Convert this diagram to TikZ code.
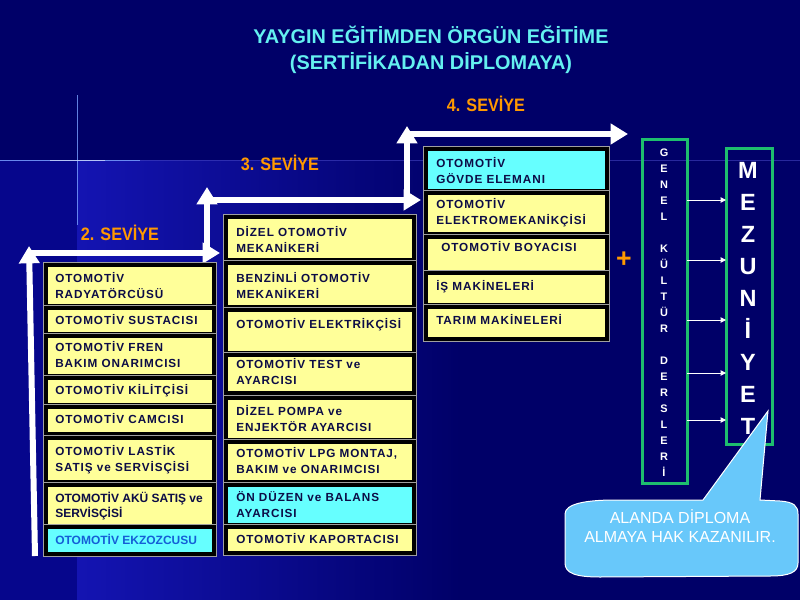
\documentclass[tikz,border=0pt]{standalone}
\usepackage{graphicx}
\usepackage{fontspec}
\setmainfont{Liberation Sans}
\newfontfamily\boxfont{Liberation Sans}[LetterSpace=8]
\usetikzlibrary{arrows.meta,fit}
\definecolor{bgtop}{RGB}{0,0,104}
\definecolor{bgmid}{RGB}{20,20,178}
\definecolor{bgleft}{RGB}{6,6,140}
\definecolor{flare}{RGB}{120,160,255}
\definecolor{boxyellow}{RGB}{255,255,153}
\definecolor{boxcyan}{RGB}{102,255,255}
\definecolor{boxtext}{RGB}{12,12,70}
\definecolor{ekzblue}{RGB}{20,95,215}
\definecolor{titlecyan}{RGB}{100,240,240}
\definecolor{levelorange}{RGB}{255,153,0}
\definecolor{framegreen}{RGB}{30,190,110}
\definecolor{calloutblue}{RGB}{104,200,250}
\newcommand{\jobbox}[6]{%
  \draw[shadowframe] (#2-2.5,#3-2.5) rectangle (#4+2.5,#5+2.5);
  \node[jobframe, fill=#6, fit={(#2,#3) (#4,#5)}] (#1) {};}
\begin{document}
\begin{tikzpicture}[x=0.75pt,y=-0.75pt,
  shadowframe/.style={draw=gray!75, line width=0.75pt},
  jobframe/.style={draw=black, line width=2.4pt, inner sep=0pt, outer sep=0pt},
  lbl/.style={anchor=west, inner sep=0pt, align=left, text=boxtext,
    font=\boxfont\bfseries\fontsize{8.8}{12}\selectfont},
  lblplain/.style={lbl, font=\bfseries\fontsize{9}{11}\selectfont},
  level/.style={inner sep=0pt, text=levelorange, font=\bfseries\fontsize{13.5}{15}\selectfont},
  stair/.style={draw=white, line width=4.5pt, -{Triangle[length=13pt,width=15pt]}},
  greenbox/.style={draw=framegreen, line width=2.25pt, inner sep=0pt, outer sep=0pt},
  gk/.style={anchor=base, inner sep=0pt, text=white, font=\bfseries\fontsize{8.2}{10}\selectfont},
  mz/.style={anchor=base, inner sep=0pt, text=white, font=\bfseries\fontsize{17.6}{20}\selectfont},
  thinarrow/.style={draw=white, line width=0.75pt, -{Triangle[length=4pt,width=4pt]}},
  callout/.style={fill=calloutblue, draw=white, line width=0.75pt}]
\useasboundingbox (0,0) rectangle (800,600);
% background
\fill[bgtop] (0,0) rectangle (800,600);
\fill[bgleft] (0,160) rectangle (77,600);
\shade[left color=bgmid, right color=bgtop] (77,160) rectangle (460,600);
\draw[bgmid!80!white, line width=0.5pt, opacity=0.6] (0,160) -- (800,160);
\draw[flare, line width=0.6pt, opacity=0.8] (0,160) -- (140,160);
\draw[flare, line width=0.6pt, opacity=0.8] (77,95) -- (77,225);
\draw[white, line width=0.6pt, opacity=0.5] (50,160) -- (105,160);

% title
\node[align=center, text=titlecyan, inner sep=0pt,
  font=\bfseries\fontsize{14.9}{19.5}\selectfont] (title) at (431,50)
  {YAYGIN EĞİTİMDEN ÖRGÜN EĞİTİME\\(SERTİFİKADAN DİPLOMAYA)};

% level labels
\node[level] (lev2) at (120,233) {\scalebox{0.9}[1]{2. SEVİYE}};
\node[level] (lev3) at (280,163) {\scalebox{0.9}[1]{3. SEVİYE}};
\node[level] (lev4) at (486,104) {\scalebox{0.9}[1]{4. SEVİYE}};

% staircase arrows
\coordinate (s2b) at (35,556);
\coordinate (s2t) at (29,246);
\coordinate (s2h) at (29,253);
\coordinate (s2e) at (220,253);
\coordinate (s3b) at (207,256);
\coordinate (s3t) at (207,187);
\coordinate (s3h) at (204,200);
\coordinate (s3e) at (421,200);
\coordinate (s4b) at (407,203);
\coordinate (s4t) at (407,126);
\coordinate (s4h) at (404,134);
\coordinate (s4e) at (628,134);
\draw[stair] (s2b) -- (s2t);
\draw[stair] (s2h) -- (s2e);
\draw[stair] (s3b) -- (s3t);
\draw[stair] (s3h) -- (s3e);
\draw[stair] (s4b) -- (s4t);
\draw[stair] (s4h) -- (s4e);

% left column
\jobbox{L1}{46}{265}{214}{306}{boxyellow}
\jobbox{L2}{46}{308}{214}{334}{boxyellow}
\jobbox{L3}{46}{336}{214}{376}{boxyellow}
\jobbox{L4}{46}{378}{214}{405}{boxyellow}
\jobbox{L5}{46}{407}{214}{434}{boxyellow}
\jobbox{L6}{46}{438}{214}{482}{boxyellow}
\jobbox{L7}{46}{485}{214}{526}{boxyellow}
\jobbox{L8}{46}{527}{214}{554}{boxcyan}
\node[lbl] (L1t) at (55,286) {OTOMOTİV\\RADYATÖRCÜSÜ};
\node[lbl] (L2t) at (55,320) {OTOMOTİV SUSTACISI};
\node[lbl] (L3t) at (55,355) {OTOMOTİV FREN\\BAKIM ONARIMCISI};
\node[lbl] (L4t) at (55,391) {OTOMOTİV KİLİTÇİSİ};
\node[lbl] (L5t) at (55,419) {OTOMOTİV CAMCISI};
\node[lbl] (L6t) at (55,460) {OTOMOTİV LASTİK\\SATIŞ ve SERVİSÇİSİ};
\node[lblplain] (L7t) at (55,506) {OTOMOTİV AKÜ SATIŞ ve\\SERVİSÇİSİ};
\node[lblplain, text=ekzblue] (L8t) at (55,539) {OTOMOTİV EKZOZCUSU};

% middle column
\jobbox{M1}{226}{217}{414}{260}{boxyellow}
\jobbox{M2}{226}{263}{414}{307}{boxyellow}
\jobbox{M3}{226}{310}{414}{353}{boxyellow}
\jobbox{M4}{226}{355}{414}{393}{boxyellow}
\jobbox{M5}{226}{398}{414}{440}{boxyellow}
\jobbox{M6}{226}{442}{414}{482}{boxyellow}
\jobbox{M7}{226}{485}{414}{525}{boxcyan}
\jobbox{M8}{226}{527}{414}{553}{boxyellow}
\node[lbl] (M1t) at (236,239) {DİZEL OTOMOTİV\\MEKANİKERİ};
\node[lbl] (M2t) at (236,285.5) {BENZİNLİ OTOMOTİV\\MEKANİKERİ};
\node[lbl] (M3t) at (236,325) {OTOMOTİV ELEKTRİKÇİSİ};
\node[lbl] (M4t) at (236,372) {OTOMOTİV TEST ve\\AYARCISI};
\node[lbl] (M5t) at (236,418.5) {DİZEL POMPA ve\\ENJEKTÖR AYARCISI};
\node[lbl] (M6t) at (236,461) {OTOMOTİV LPG MONTAJ,\\BAKIM ve ONARIMCISI};
\node[lbl] (M7t) at (236,505) {ÖN DÜZEN ve BALANS\\AYARCISI};
\node[lbl] (M8t) at (236,539) {OTOMOTİV KAPORTACISI};

% right column
\jobbox{R1}{426}{149}{607}{191}{boxcyan}
\jobbox{R2}{426}{193}{607}{234}{boxyellow}
\jobbox{R3}{426}{237}{607}{272}{boxyellow}
\jobbox{R4}{426}{273}{607}{305}{boxyellow}
\jobbox{R5}{426}{307}{607}{339}{boxyellow}
\node[lbl] (R1t) at (436,170.5) {OTOMOTİV\\GÖVDE ELEMANI};
\node[lbl] (R2t) at (436,212.5) {OTOMOTİV\\ELEKTROMEKANİKÇİSİ};
\node[lbl] (R3t) at (441,247) {OTOMOTİV BOYACISI};
\node[lbl] (R4t) at (436,287) {İŞ MAKİNELERİ};
\node[lbl] (R5t) at (436,319) {TARIM MAKİNELERİ};

% plus
\node[inner sep=0pt, text=levelorange, font=\bfseries\fontsize{20}{20}\selectfont] (plus) at (624,260) {+};

% genel kultur dersleri
\node[greenbox, fit={(642,139) (687,483)}] (genel) {};
\foreach \ch [count=\i] in {G,E,N,E,L,{},K,Ü,L,T,Ü,R,{},D,E,R,S,L,E,R,İ}
  \node[gk] (gk\i) at (664,{156+16*(\i-1)}) {\ch};

% mezuniyet
\node[greenbox, fit={(726,148) (772,444)}] (mezun) {};
\foreach \yy [count=\i] in {200,260,320,373,420}
  \draw[thinarrow] (genel.east |- 0,\yy) -- (mezun.west |- 0,\yy);

% callout
\draw[callout] (565,514) .. controls (565,504) and (585,500) .. (615,500)
  -- (703,500) -- (768,411) -- (760,500) -- (780,501)
  .. controls (794,502) and (798,506) .. (798,514)
  -- (798,563) .. controls (798,572) and (790,576) .. (770,576)
  -- (600,577) .. controls (575,577) and (565,573) .. (565,563) -- cycle;
\node[align=center, text=white, inner sep=0pt,
  font=\fontsize{12}{14.2}\selectfont] (ctext) at (680,526)
  {ALANDA DİPLOMA\\ALMAYA HAK KAZANILIR.};

\foreach \ch [count=\i] in {M,E,Z,U,N,İ,Y,E,T}
  \node[mz] (mz\i) at (748,{178.5+32*(\i-1)}) {\ch};
\end{tikzpicture}
\end{document}
